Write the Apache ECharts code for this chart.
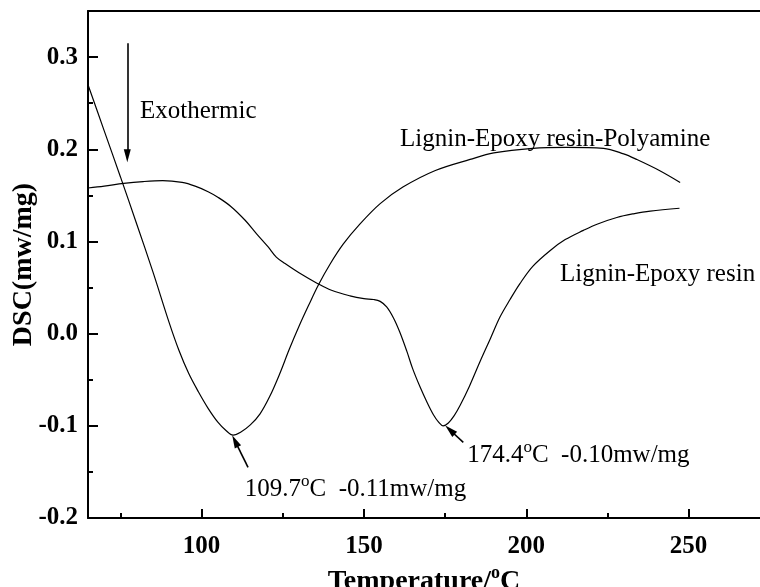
<!DOCTYPE html>
<html>
<head>
<meta charset="utf-8">
<title>DSC curves</title>
<script src="https://cdn.jsdelivr.net/npm/echarts@6/dist/echarts.min.js"></script>
<style>
  html, body { margin: 0; padding: 0; background: #fff; }
  #chart { width: 760px; height: 587px; }
</style>
</head>
<body>
<div id="chart"></div>
<script>
// Temperature range shown on the x axis (°C) and DSC range on the y axis (mw/mg)
const xRange = [65, 272];
const yRange = [-0.2, 0.35];

// Tick positions
const xMajorTicks = [100, 150, 200, 250];
const xMinorTicks = [75, 125, 175, 225];
const yMajorTicks = [-0.2, -0.1, 0.0, 0.1, 0.2, 0.3];
const yMinorTicks = [-0.15, -0.05, 0.05, 0.15, 0.25];

// Lignin-Epoxy resin-Polyamine: [temperature, DSC]
const polyamineCurve = [
  [65, 0.270], [70, 0.220], [75, 0.170], [80, 0.119], [85, 0.067], [90, 0.012],
  [93, -0.018], [96, -0.043], [99, -0.063], [102, -0.081], [105, -0.096],
  [107.5, -0.105], [109.7, -0.110], [112, -0.107], [115, -0.099], [118, -0.087],
  [121, -0.068], [124, -0.044], [127, -0.017], [130, 0.008], [133, 0.031],
  [136, 0.053], [139.5, 0.075], [143.6, 0.097], [148.8, 0.119], [155, 0.141],
  [162, 0.159], [172, 0.177], [182.7, 0.189], [190, 0.196], [202, 0.201],
  [212.5, 0.202], [223.8, 0.201], [230, 0.195], [234, 0.189], [241, 0.177],
  [247.4, 0.164]
];

// Lignin-Epoxy resin: [temperature, DSC]
const epoxyCurve = [
  [65, 0.158], [70, 0.160], [76, 0.163], [82, 0.165], [88, 0.166], [94, 0.164],
  [98, 0.160], [102, 0.154], [105, 0.148], [109, 0.138], [113.4, 0.123],
  [117, 0.108], [120.5, 0.094], [123, 0.083], [125.7, 0.076], [130, 0.066],
  [135.4, 0.055], [140, 0.047], [145.7, 0.041], [150, 0.038], [153, 0.037],
  [155, 0.035], [157, 0.029], [159.1, 0.017], [161, 0.002], [163.2, -0.019],
  [165, -0.038], [167.3, -0.058], [169.5, -0.075], [171.4, -0.088], [173, -0.096],
  [174.4, -0.100], [176, -0.097], [177.8, -0.089], [179.6, -0.078], [182.5, -0.057],
  [185.8, -0.030], [189, -0.005], [191.9, 0.018], [195, 0.037], [198, 0.054],
  [202, 0.073], [207.3, 0.090], [212, 0.102], [217.6, 0.112], [222, 0.119],
  [227.9, 0.126], [233, 0.130], [238.2, 0.133], [247.2, 0.136]
];

// Peak minima that get an arrow and a value label
const polyaminePeak = [109.7, -0.110];
const epoxyPeak = [174.4, -0.100];

const serif = 'Liberation Serif, Times New Roman, serif';
const black = '#000';

function peakText(p) {
  return '{t|' + p[0].toFixed(1) + '}{s|o}{t|C  ' + p[1].toFixed(2) + 'mw/mg}';
}

// the superscript "o" is lifted by bottom padding inside the line box
const textRich = {
  t: { fontFamily: serif, fontSize: 25, color: black, lineHeight: 25 },
  s: { fontFamily: serif, fontSize: 17, color: black, lineHeight: 8, padding: [0, 0, 16, 0] }
};

function textMark(coord, text) {
  return {
    coord: coord,
    symbol: 'circle',
    symbolSize: 0,
    label: {
      show: true,
      position: 'right',
      distance: 0,
      formatter: text,
      rich: textRich,
      fontFamily: serif,
      fontSize: 25,
      color: black
    }
  };
}

function arrow(from, to) {
  return [
    { coord: from, symbol: 'none' },
    { coord: to, symbol: 'triangle', symbolSize: [7, 13] }
  ];
}

const tickLabelStyle = {
  fontFamily: serif, fontSize: 25, fontWeight: 'bold', color: black
};

function minorAxis(base, ticks, len) {
  return Object.assign({
    type: 'value',
    axisLine: { show: false, onZero: false },
    axisTick: { show: true, inside: true, length: len, customValues: ticks,
      lineStyle: { color: black, width: 2 } },
    axisLabel: { show: false },
    splitLine: { show: false }
  }, base);
}

const chart = echarts.init(document.getElementById('chart'), null, { renderer: 'canvas' });

chart.setOption({
  animation: false,
  backgroundColor: '#fff',
  grid: { left: 88, right: 0, top: 11, bottom: 69, containLabel: false, outerBoundsMode: 'none' },
  xAxis: [
    {
      type: 'value', min: xRange[0], max: xRange[1], position: 'bottom',
      axisLine: { show: true, onZero: false, lineStyle: { color: black, width: 2 } },
      axisTick: { show: true, inside: true, length: 9, customValues: xMajorTicks,
        lineStyle: { color: black, width: 2 } },
      axisLabel: Object.assign({ customValues: xMajorTicks, margin: 16 }, tickLabelStyle),
      splitLine: { show: false },
      name: '{b|Temperature/}{s|o}{b|C}',
      nameLocation: 'middle',
      nameGap: 50,
      nameMoveOverlap: false,
      nameTextStyle: {
        rich: {
          b: { fontFamily: serif, fontSize: 28, fontWeight: 'bold', color: black, lineHeight: 28 },
          s: { fontFamily: serif, fontSize: 18, fontWeight: 'bold', color: black, lineHeight: 9, padding: [0, 0, 18, 0] }
        }
      }
    },
    minorAxis({ min: xRange[0], max: xRange[1], position: 'bottom' }, xMinorTicks, 5),
    {
      type: 'value', min: xRange[0], max: xRange[1], position: 'top',
      axisLine: { show: true, onZero: false, lineStyle: { color: black, width: 2 } },
      axisTick: { show: false }, axisLabel: { show: false }, splitLine: { show: false }
    }
  ],
  yAxis: [
    {
      type: 'value', min: yRange[0], max: yRange[1], position: 'left',
      axisLine: { show: true, onZero: false, lineStyle: { color: black, width: 2 } },
      axisTick: { show: true, inside: true, length: 10, customValues: yMajorTicks,
        lineStyle: { color: black, width: 2 } },
      axisLabel: Object.assign({
        customValues: yMajorTicks, margin: 10,
        formatter: v => v.toFixed(1)
      }, tickLabelStyle),
      splitLine: { show: false },
      name: 'DSC(mw/mg)',
      nameLocation: 'middle',
      nameGap: 50,
      nameMoveOverlap: false,
      nameTextStyle: { fontFamily: serif, fontSize: 28, fontWeight: 'bold', color: black }
    },
    minorAxis({ min: yRange[0], max: yRange[1], position: 'left' }, yMinorTicks, 5)
  ],
  series: [
    {
      name: 'Lignin-Epoxy resin-Polyamine',
      type: 'line',
      xAxisIndex: 0, yAxisIndex: 0,
      data: polyamineCurve,
      showSymbol: false,
      smooth: 0.35,
      lineStyle: { color: black, width: 1.2 },
      silent: true,
      markLine: {
        silent: true,
        animation: false,
        label: { show: false },
        lineStyle: { color: black, width: 1.6, type: 'solid' },
        itemStyle: { color: black },
        data: [
          // "Exothermic" direction arrow
          arrow([77.1, 0.315], [77.1, 0.193]),
          // arrow pointing at the first peak
          arrow([114.3, -0.145], [110.3, -0.1165])
        ]
      },
      markPoint: {
        silent: true,
        animation: false,
        data: [
          textMark([81.0, 0.2413], '{t|Exothermic}'),
          textMark([161.1, 0.2104], '{t|Lignin-Epoxy resin-Polyamine}'),
          textMark([113.3, -0.1687], peakText(polyaminePeak))
        ]
      }
    },
    {
      name: 'Lignin-Epoxy resin',
      type: 'line',
      xAxisIndex: 0, yAxisIndex: 0,
      data: epoxyCurve,
      showSymbol: false,
      smooth: 0.35,
      lineStyle: { color: black, width: 1.2 },
      silent: true,
      markLine: {
        silent: true,
        animation: false,
        label: { show: false },
        lineStyle: { color: black, width: 1.6, type: 'solid' },
        itemStyle: { color: black },
        data: [
          arrow([180.6, -0.118], [176.5, -0.1045])
        ]
      },
      markPoint: {
        silent: true,
        animation: false,
        data: [
          textMark([210.4, 0.0645], '{t|Lignin-Epoxy resin}'),
          textMark([181.8, -0.1323], peakText(epoxyPeak))
        ]
      }
    }
  ]
});
</script>
</body>
</html>
